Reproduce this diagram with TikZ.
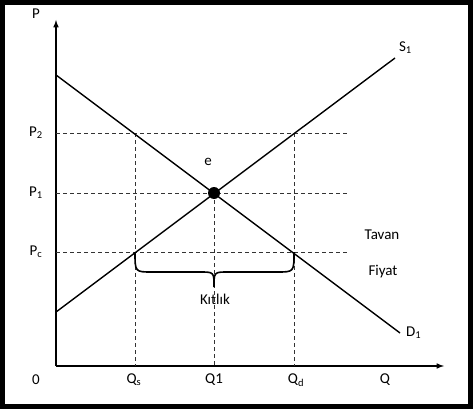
\documentclass[tikz,border=0pt]{standalone}
\usepackage{fontspec}
\setmainfont{Carlito}
\begin{document}
\begin{tikzpicture}[x=1pt,y=-1pt,font=\fontsize{15}{17}\selectfont,
  curve/.style={line width=1.4pt},
  guide/.style={dashed,line width=0.8pt,dash pattern=on 4pt off 3pt,black!80}]
  \useasboundingbox (0,0) rectangle (473,409);
  \draw[line width=5pt] (2.5,2.5) rectangle (470.5,406.5);
  % axes
  \coordinate (O) at (56,366);
  \coordinate (ytop) at (56,20);
  \coordinate (xend) at (444,366);
  \draw[line width=1.5pt,-latex] (O) -- (ytop);
  \draw[line width=1.5pt,-latex] (O) -- (xend);
  % price levels and quantities
  \coordinate (e) at (214,193);
  \coordinate (p2) at (56,133);
  \coordinate (p1) at (56,193);
  \coordinate (pc) at (56,252);
  \coordinate (qs) at (135,252);
  \coordinate (qd) at (294,252);
  \draw[guide] (p2) -- (347,133);
  \draw[guide] (p1) -- (347,193);
  \draw[guide] (pc) -- (347,252);
  \draw[guide] (135,133) -- (135,366);
  \draw[guide] (e) -- (214,366);
  \draw[guide] (294,133) -- (294,366);
  % demand and supply
  \draw[curve] (56,75) -- (400,333) node[right=2pt] {D\textsubscript{1}};
  \draw[curve] (56,312) -- (395,58) node[above right=0pt] {S\textsubscript{1}};
  \fill (e) circle (6);
  \node at (208,162) {e};
  % shortage brace
  \draw[line width=1.6pt] (qs) .. controls (135,272) .. (152,272) -- (200,272)
    .. controls (214,272) .. (214,287) .. controls (214,272) .. (228,272)
    -- (277,272) .. controls (294,272) .. (qd);
  \node at (215,299) {Kıtlık};
  \node at (382,235) {Tavan};
  \node at (383,272) {Fiyat};
  % axis labels
  \node at (36,14) {P};
  \node at (36,133) {P\textsubscript{2}};
  \node at (36,193) {P\textsubscript{1}};
  \node at (36,252) {P\textsubscript{c}};
  \node at (36,380) {0};
  \node at (134,380) {Q\textsubscript{s}};
  \node at (214,380) {Q1};
  \node at (296,380) {Q\textsubscript{d}};
  \node at (385,380) {Q};
\end{tikzpicture}
\end{document}
